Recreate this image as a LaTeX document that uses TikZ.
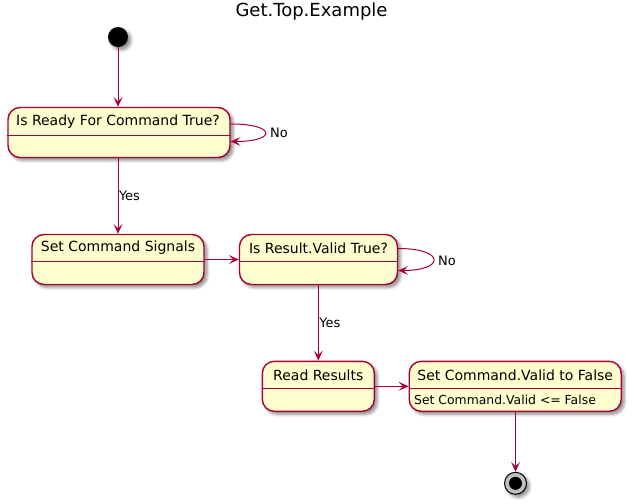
\documentclass[tikz,border=0pt]{standalone}
\usepackage{fontspec}
\setmainfont{DejaVu Sans}
\usetikzlibrary{arrows.meta,shadows,shadows.blur}
\definecolor{pfill}{HTML}{FEFECE}
\definecolor{pline}{HTML}{A80036}
\tikzset{
  softshadow/.style={blur shadow={shadow xshift=3pt, shadow yshift=-3pt, shadow blur radius=3pt, shadow blur steps=6, shadow opacity=45}},
  statebox/.style={draw=pline, fill=pfill, line width=1.4pt, rounded corners=12pt,
    minimum height=50pt, inner sep=0pt, softshadow},
  stname/.style={font=\fontsize{14}{16}\selectfont, inner sep=0pt, anchor=center},
  stbody/.style={font=\fontsize{12.4}{14}\selectfont, inner sep=0pt, anchor=west},
  lbl/.style={font=\fontsize{13}{15}\selectfont, inner sep=0pt},
  divider/.style={draw=pline, line width=0.9pt},
  arr/.style={draw=pline, line width=1pt, -{Stealth[length=10pt,width=9pt,inset=4.5pt]}},
}
\begin{document}
\begin{tikzpicture}[x=1pt,y=-1pt]
\useasboundingbox (0,0) rectangle (634,503);
% title
\node[font=\fontsize{18}{21}\selectfont, inner sep=0pt] (title) at (311.5,11.5) {Get.Top.Example};
% start
\node[circle, fill=black, minimum size=20pt, inner sep=0pt, softshadow] (start) at (118,37) {};
% states
\node[statebox, minimum width=222pt] (s1) at (119,132.5) {};
\node[stname] (s1n) at (118,121.5) {Is Ready For Command True?};
\draw[divider] (s1.west |- 0,135) -- (s1.east |- 0,135);

\node[statebox, minimum width=172pt] (s2) at (118,259.5) {};
\node[stname] (s2n) at (118,248) {Set Command Signals};
\draw[divider] (s2.west |- 0,261) -- (s2.east |- 0,261);

\node[statebox, minimum width=158pt] (s3) at (318.5,259.5) {};
\node[stname] (s3n) at (318.5,248) {Is Result.Valid True?};
\draw[divider] (s3.west |- 0,261.5) -- (s3.east |- 0,261.5);

\node[statebox, minimum width=112pt] (s4) at (318.3,386.3) {};
\node[stname] (s4n) at (318.3,375) {Read Results};
\draw[divider] (s4.west |- 0,388.5) -- (s4.east |- 0,388.5);

\node[statebox, minimum width=212pt] (s5) at (515.2,386.3) {};
\node[stname] (s5n) at (515.2,375) {Set Command.Valid to False};
\draw[divider] (s5.west |- 0,388.5) -- (s5.east |- 0,388.5);
\node[stbody] (s5b) at (414,399.5) {Set Command.Valid <= False};
% end
\node[circle, draw=black, fill=black!25, line width=1pt, minimum size=22pt, inner sep=0pt, softshadow] (end) at (515.5,483.3) {};
\node[circle, fill=black, minimum size=13pt, inner sep=0pt] (endin) at (end.center) {};
% connectors
\draw[arr] (start) -- (start |- s1.north);
\draw[arr] (s2.north |- s1.south) -- (s2.north) node[lbl, pos=0.5, anchor=west, xshift=0.5pt] (y1) {Yes};
\draw[arr] (s2.east) -- (s3.west);
\draw[arr] (s4.north |- s3.south) -- (s4.north) node[lbl, pos=0.5, anchor=west, xshift=0.5pt] (y2) {Yes};
\draw[arr] (s4.east) -- (s5.west);
\draw[arr] (s5.south -| end) -- (end.north);
% self loops
\draw[arr] ([yshift=8.5pt]s1.east) .. controls ([xshift=46pt,yshift=8.5pt]s1.east) and ([xshift=46pt,yshift=-9pt]s1.east) .. ([yshift=-9pt]s1.east);
\node[lbl, anchor=west] (n1) at (270,133) {No};
\draw[arr] ([yshift=11pt]s3.east) .. controls ([xshift=47pt,yshift=11pt]s3.east) and ([xshift=47pt,yshift=-11pt]s3.east) .. ([yshift=-11pt]s3.east);
\node[lbl, anchor=west] (n2) at (438,261) {No};
\end{tikzpicture}
\end{document}
